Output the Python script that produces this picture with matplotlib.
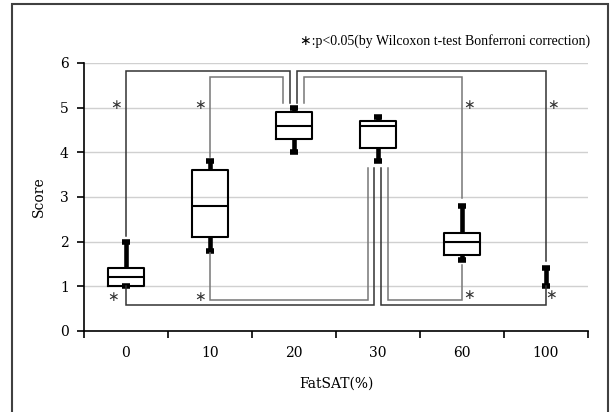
import matplotlib
matplotlib.use("Agg")
import matplotlib.pyplot as plt
from matplotlib.patches import Rectangle

categories = ["0", "10", "20", "30", "60", "100"]
whislo = [1.0, 1.8, 4.0, 3.8, 1.6, 1.0]
q1 =     [1.0, 2.1, 4.3, 4.1, 1.7, 1.0]
med =    [1.2, 2.8, 4.6, 4.6, 2.0, 1.0]
q3 =     [1.4, 3.6, 4.9, 4.7, 2.2, 1.0]
whishi = [2.0, 3.8, 5.0, 4.8, 2.8, 1.4]
has_box = [True, True, True, True, True, False]

# significance brackets: (x1, y1, x2, y2, ybar, colour)
brackets_top = [
    (0, 2.12, 1.955, 5.1, 5.82, "#333333"),
    (1, 3.90, 1.87, 5.1, 5.69, "#777777"),
    (2.035, 5.1, 5.0, 1.57, 5.82, "#333333"),
    (2.12, 5.1, 4.0, 2.97, 5.69, "#777777"),
]
brackets_bot = [
    (0, 1.0, 2.95, 3.65, 0.58, "#333333"),
    (1, 1.74, 2.88, 3.65, 0.69, "#777777"),
    (3.03, 3.65, 5.0, 1.0, 0.58, "#333333"),
    (3.115, 3.65, 4.0, 1.48, 0.69, "#777777"),
]
stars = [(-0.12, 5.07), (0.88, 5.07), (4.08, 5.07), (5.08, 5.07),
         (-0.16, 0.77), (0.88, 0.77), (4.08, 0.8), (5.06, 0.8)]

note = "∗:p<0.05(by Wilcoxon t-test Bonferroni correction)"
plt.rcParams["font.family"] = ["DejaVu Serif", "Noto Sans CJK JP", "DejaVu Sans"]
note_font = ["Liberation Serif", "DejaVu Sans"]

fig = plt.figure(figsize=(6.11, 4.12), dpi=100)
ax = fig.add_axes([84/611, 81/412, 504/611, 268/412])

# outer frame
fig.patches.append(Rectangle((12/611, -0.02), 596/611, 1.02 - 4/412,
                             transform=fig.transFigure, fill=False,
                             edgecolor="#404040", lw=1.5))

ax.set_ylim(0, 6)
ax.set_yticks(range(0, 7))
ax.yaxis.grid(True, color="#d0d0d0", lw=1)
ax.set_axisbelow(True)
ax.spines["top"].set_visible(False)
ax.spines["right"].set_visible(False)
ax.spines["left"].set_linewidth(1.2)
ax.spines["bottom"].set_linewidth(1.2)

pos = list(range(len(categories)))

stats = []
for i in range(len(categories)):
    stats.append(dict(whislo=whislo[i], q1=q1[i], med=med[i], q3=q3[i],
                      whishi=whishi[i], fliers=[], label=categories[i]))

box_idx = [i for i in pos if has_box[i]]
nobox_idx = [i for i in pos if not has_box[i]]
common = dict(showfliers=False, capwidths=0.1, widths=0.42,
              whiskerprops=dict(color="black", lw=3.3, solid_capstyle="butt"),
              capprops=dict(color="black", lw=4, solid_capstyle="butt"))
ax.bxp([stats[i] for i in box_idx], positions=box_idx,
       boxprops=dict(color="black", lw=1.5),
       medianprops=dict(color="black", lw=1.5), **common)
ax.bxp([stats[i] for i in nobox_idx], positions=nobox_idx, showbox=False,
       medianprops=dict(lw=0), **common)

ax.set_xlim(-0.5, 5.5)
ax.set_xticks(pos)
ax.set_xticklabels(categories)
ax.set_xticks([p - 0.5 for p in pos] + [5.5], minor=True)
ax.tick_params(axis="x", which="major", length=0, labelsize=10, pad=11)
ax.tick_params(axis="x", which="minor", length=5, width=1.2)
ax.tick_params(axis="y", length=5, width=1.2, labelsize=10, pad=6)

for (x1, y1, x2, y2, yb, c) in brackets_top + brackets_bot:
    ax.plot([x1, x1, x2, x2], [y1, yb, yb, y2], color=c, lw=1.1,
            solid_joinstyle="miter", clip_on=False)

for (sx, sy) in stars:
    ax.text(sx, sy, "∗", ha="center", va="center", fontsize=10,
            color="#333333", family=["DejaVu Sans"])

ax.set_ylabel("Score", fontsize=10, labelpad=10)
ax.set_xlabel("FatSAT(%)", fontsize=10, labelpad=12)
fig.text(590/611, 1 - 41/412, note, ha="right", va="center", fontsize=10,
         family=note_font)

fig.savefig("out.png", dpi=100)
